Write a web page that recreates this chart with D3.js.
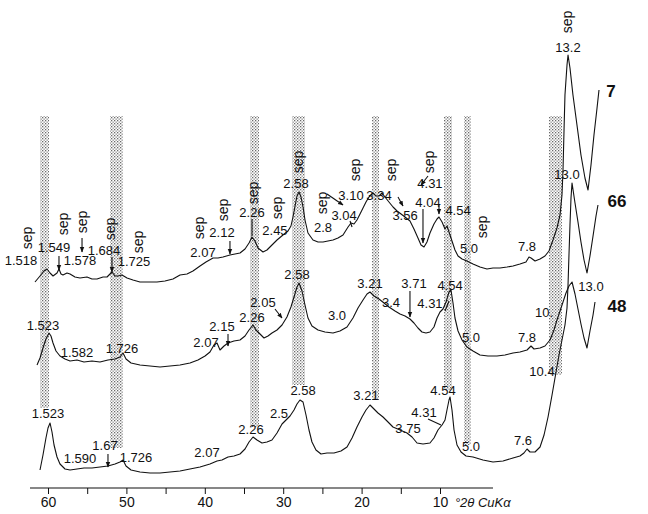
<!DOCTYPE html>
<html><head><meta charset="utf-8">
<script src="https://cdn.jsdelivr.net/npm/d3@7"></script>
<style>
html,body{margin:0;padding:0;background:#fff;}
svg{display:block;font-family:"Liberation Sans",Arial,Helvetica,sans-serif;}
</style></head><body>
<svg id="chart" width="648" height="514"></svg>
<script>
// ---- DATA (x in °2θ as read on the printed axis, y in arbitrary intensity units) ----
const sample7 = [[61.66,206],[61.02,212],[60.51,217],[60.13,219],[59.74,215],[59.36,212],[58.85,215],[58.60,219],[58.34,214],[58.09,213],[57.58,215],[57.19,214],[56.56,211],[55.92,210],[55.03,211],[54.39,209],[53.75,209],[52.98,211],[52.47,211],[51.84,216],[51.45,212],[51.07,212],[50.56,213],[49.92,210],[49.16,208],[48.27,206],[47.24,206],[46.10,206],[45.08,207],[44.06,209],[43.16,213],[42.27,214],[41.51,217],[40.61,222],[39.85,226],[38.95,230],[38.32,230],[37.68,231],[36.79,233],[36.15,234],[35.51,235],[34.87,239],[34.36,245],[33.98,251],[33.60,247],[33.21,240],[32.58,236],[32.07,238],[31.56,242],[30.79,248],[30.03,253],[29.39,257],[29.01,262],[28.75,271],[28.49,282],[28.24,292],[27.98,296],[27.73,291],[27.47,281],[27.22,268],[26.84,255],[26.20,248],[25.56,246],[24.92,246],[24.29,247],[23.65,248],[23.01,250],[22.37,253],[21.73,261],[21.35,265],[20.97,264],[20.59,268],[20.20,274],[19.82,280],[19.44,286],[19.06,291],[18.55,295],[18.16,292],[17.78,292],[17.40,295],[17.02,291],[16.51,286],[15.99,281],[15.48,277],[14.97,274],[14.46,271],[13.83,267],[13.32,259],[12.81,250],[12.42,243],[12.04,241],[11.66,246],[11.28,255],[10.77,264],[10.38,269],[10.13,271],[9.74,266],[9.36,259],[9.11,262],[8.85,256],[8.47,247],[8.09,238],[7.70,232],[7.19,229],[6.56,227],[5.79,224],[4.90,221],[4.01,219],[3.24,220],[2.35,220],[1.45,221],[0.69,222],[-0.20,224],[-0.97,226],[-1.35,231],[-1.61,230],[-2.12,227],[-2.76,229],[-3.39,232],[-3.90,237],[-4.41,248],[-4.92,260],[-5.31,273],[-5.56,293],[-5.69,318],[-5.82,358],[-5.94,393],[-6.20,423],[-6.33,433],[-6.58,420],[-6.96,393],[-7.47,363],[-7.98,333],[-8.49,310],[-8.88,298],[-9.26,323],[-9.64,353],[-10.03,380],[-10.28,398]];
const sample48 = [[61.40,123],[61.02,130],[60.64,140],[60.26,149],[59.87,155],[59.62,152],[59.36,145],[58.98,137],[58.47,132],[57.83,129],[57.19,127],[56.30,128],[55.41,126],[54.39,127],[53.37,126],[52.35,128],[51.45,129],[50.82,131],[50.43,135],[50.05,129],[49.41,125],[48.27,123],[46.99,122],[45.71,121],[44.44,122],[43.16,123],[41.89,125],[40.87,128],[39.97,132],[39.34,136],[38.83,143],[38.44,145],[38.06,138],[37.55,142],[37.04,145],[36.28,147],[35.51,148],[34.87,152],[34.36,158],[33.85,163],[33.47,158],[32.96,154],[32.45,150],[31.94,152],[31.43,155],[30.79,158],[30.15,163],[29.52,171],[29.01,181],[28.62,191],[28.24,201],[27.98,205],[27.60,197],[27.22,183],[26.84,170],[26.33,162],[25.56,158],[24.67,156],[23.65,155],[22.76,157],[21.86,161],[21.10,170],[20.46,180],[19.82,188],[19.31,194],[18.93,196],[18.42,192],[17.78,189],[17.14,185],[16.51,181],[15.74,177],[15.10,174],[14.46,172],[13.83,169],[13.32,165],[12.81,160],[12.30,156],[11.79,155],[11.28,156],[10.77,161],[10.38,170],[10.00,176],[9.62,179],[9.23,186],[8.85,196],[8.60,198],[8.34,185],[8.09,170],[7.70,157],[7.19,148],[6.56,141],[5.79,137],[4.90,133],[3.88,132],[2.73,132],[1.71,133],[0.69,135],[-0.20,136],[-1.10,138],[-1.61,142],[-1.99,139],[-2.76,140],[-3.39,142],[-4.03,148],[-4.54,158],[-4.92,168],[-5.31,177],[-5.69,186],[-6.07,195],[-6.45,202],[-6.84,206],[-7.22,194],[-7.60,179],[-7.98,164],[-8.37,150],[-8.75,140],[-9.13,157],[-9.52,173],[-9.77,186]];
const sample66 = [[61.02,18],[60.64,33],[60.26,50],[60.00,60],[59.74,65],[59.49,56],[59.23,43],[58.85,31],[58.47,24],[57.83,19],[57.19,18],[56.30,19],[55.41,20],[54.39,20],[53.37,21],[52.35,22],[51.45,24],[50.82,26],[50.43,28],[50.05,22],[49.41,18],[48.27,16],[46.99,15],[45.71,15],[44.44,16],[43.16,17],[41.89,19],[40.61,21],[39.34,24],[38.44,27],[37.81,28],[37.04,31],[36.28,32],[35.51,34],[34.87,39],[34.36,46],[33.85,51],[33.34,48],[32.71,45],[32.07,46],[31.43,48],[30.79,55],[30.15,64],[29.64,68],[29.13,72],[28.62,78],[28.24,84],[27.86,88],[27.47,86],[27.09,73],[26.71,58],[26.33,46],[25.82,38],[25.18,34],[24.41,35],[23.52,35],[22.63,37],[21.86,41],[21.22,50],[20.59,61],[19.95,71],[19.44,78],[18.93,83],[18.42,79],[17.91,75],[17.27,71],[16.63,66],[16.00,61],[15.10,58],[14.21,55],[13.57,51],[12.93,45],[12.17,44],[11.28,45],[10.77,50],[10.26,58],[9.74,63],[9.36,68],[9.11,78],[8.85,88],[8.72,91],[8.47,78],[8.21,58],[7.83,43],[7.32,36],[6.68,32],[5.79,31],[4.52,28],[3.24,26],[1.96,27],[0.69,30],[-0.20,32],[-0.71,35],[-1.10,39],[-1.48,36],[-2.12,36],[-2.76,41],[-3.27,53],[-3.78,71],[-4.29,93],[-4.80,116],[-5.18,133],[-5.56,148],[-5.94,163],[-6.20,180],[-6.33,203],[-6.45,233],[-6.58,263],[-6.71,290],[-6.84,305],[-7.22,285],[-7.60,266],[-7.98,246],[-8.37,228],[-8.75,215],[-9.13,232],[-9.52,252],[-9.90,272],[-10.15,283]];

const sampleNames = ["7", "66", "48"];
const sampleNamePos = [[-11.81,391],[-12.58,281],[-12.58,176]];

// d-spacing labels [text, °2θ, intensity]
const labels7 = [["1.518",63.44,223],["1.549",59.23,236],["1.578",55.92,223],["1.684",52.86,233],["1.725",49.03,222],["2.07",40.23,231],["2.12",37.81,251],["2.26",33.98,271],["2.45",31.05,253],["2.58",28.37,300],["2.8",24.92,256],["3.04",22.24,268],["3.10",21.35,288],["3.34",17.78,288],["3.56",14.46,268],["4.31",11.28,300],["4.04",11.53,281],["4.54",7.70,273],["5.0",6.30,235],["7.8",-1.10,237],["13.2",-6.33,436]];
const labels48 = [["1.523",60.64,158],["1.582",56.30,131],["1.726",50.56,135],["2.07",39.85,141],["2.15",37.81,157],["2.26",33.98,166],["2.05",32.58,181],["2.58",28.24,209],["3.0",23.14,168],["3.21",18.93,200],["3.4",16.25,181],["3.71",13.32,200],["4.31",11.28,180],["4.54",8.72,198],["5.0",6.05,146],["7.8",-1.10,146],["10.",-3.27,171],["13.0",-9.26,197]];
const labels66 = [["1.523",60.00,70],["1.590",55.92,25],["1.67",52.73,38],["1.726",48.78,26],["2.07",39.72,31],["2.26",34.11,54],["2.5",30.54,70],["2.58",27.47,93],["3.21",19.44,88],["4.31",12.04,71],["3.75",14.08,55],["4.54",9.62,93],["5.0",6.05,37],["7.6",-0.59,43],["10.4",-3.01,112],["13.0",-6.20,309]];
// sepiolite marks [°2θ, intensity]
const sepMarks = [[62.68,250],[58.09,264],[55.66,266],[52.09,259],[48.52,246],[40.74,260],[37.68,278],[33.85,295],[30.79,280],[28.11,326],[25.05,285],[20.84,318],[16.25,318],[11.40,326],[4.64,261],[-6.20,466]];
// pointer arrows [x1,y1,x2,y2,head]
const pointers = [[58.60,232,58.60,218,1],[55.66,250,55.66,236,1],[51.84,231,51.84,216,1],[36.79,247,36.79,234,1],[33.98,269,33.98,252,0],[24.41,294,22.37,283,1],[21.48,267,21.22,261,0],[15.36,291,14.72,282,1],[11.53,312,12.42,303,1],[12.17,279,12.17,245,1],[10.13,283,10.13,274,1],
  [37.04,154,37.04,142,1],[31.05,179,30.15,170,1],[13.83,197,13.83,171,1],[8.85,187,9.36,177,0],
  [52.35,34,52.35,21,1],[11.53,69,9.87,63,0]];
// reference reflection bands [from °2θ, to °2θ, lower intensity]
const bandFrom = [61.02,52.09,34.23,28.88,18.67,9.49,6.94,-3.90];
const bandTo   = [59.87,50.43,33.09,27.22,17.78,8.47,6.05,-5.56];
const bandLow  = [80,40,61,103,88,98,43,113];
const bandHigh = 372;
const xTicks = [60,55,50,45,40,35,30,25,20,15,10];
const axisExtent = [62.3, 3.24];

// ---- CHART ----
const svg = d3.select("#chart");
const x = d3.scaleLinear().domain([60, 10]).range([48, 440]);
const y = d3.scaleLinear().domain([0, 488]).range([488, 0]);

const defs = svg.append("defs");
const pat = defs.append("pattern").attr("id","stipple").attr("patternUnits","userSpaceOnUse")
  .attr("width",3).attr("height",3);
pat.append("rect").attr("x",0).attr("y",0).attr("width",1.3).attr("height",1.3).attr("fill","#6a6a6a");
pat.append("rect").attr("x",1.5).attr("y",1.5).attr("width",1.3).attr("height",1.3).attr("fill","#8a8a8a");
defs.append("marker").attr("id","arr").attr("viewBox","0 0 10 10").attr("refX",9).attr("refY",5)
  .attr("markerWidth",5).attr("markerHeight",5).attr("orient","auto")
  .append("path").attr("d","M0,1 L10,5 L0,9 Z").attr("fill","#111");

svg.append("rect").attr("width",648).attr("height",514).attr("fill","#fff");

// bands
svg.append("g").selectAll("rect").data(bandFrom).join("rect")
  .attr("x",(d,i)=>x(d)).attr("width",(d,i)=>x(bandTo[i])-x(d))
  .attr("y",y(bandHigh)).attr("height",(d,i)=>y(bandLow[i])-y(bandHigh))
  .attr("fill","url(#stipple)");

// curves
const line = d3.line().x(d=>x(d[0])).y(d=>y(d[1]));
svg.append("g").selectAll("path").data([sample7, sample48, sample66]).join("path")
  .attr("d", line).attr("fill","none").attr("stroke","#111").attr("stroke-width",1.1)
  .attr("stroke-linejoin","round");

// pointers
svg.append("g").selectAll("line").data(pointers).join("line")
  .attr("x1",d=>x(d[0])).attr("y1",d=>y(d[1])).attr("x2",d=>x(d[2])).attr("y2",d=>y(d[3]))
  .attr("stroke","#111").attr("stroke-width",1.1)
  .attr("marker-end",d=>d[4]?"url(#arr)":null);

// d-spacing labels
const lg = svg.append("g").attr("font-size",13).attr("fill","#111").attr("text-anchor","middle");
lg.selectAll("text").data([...labels7, ...labels48, ...labels66]).join("text")
  .attr("x",d=>x(d[1])).attr("y",d=>y(d[2])).text(d=>d[0]);

// sep labels
svg.append("g").attr("font-size",14).attr("fill","#111").selectAll("text").data(sepMarks).join("text")
  .attr("text-anchor","middle").attr("dy","0.33em")
  .attr("transform",d=>`translate(${x(d[0])},${y(d[1])}) rotate(-90)`).text("sep");

// sample names
svg.append("g").attr("font-size",17).attr("font-weight","bold").attr("fill","#111")
  .selectAll("text").data(sampleNames).join("text")
  .attr("text-anchor","middle").attr("x",(d,i)=>x(sampleNamePos[i][0])).attr("y",(d,i)=>y(sampleNamePos[i][1]))
  .text(d=>d);

// axis
const ax = svg.append("g").attr("transform",`translate(0,${y(0)})`)
  .call(d3.axisBottom(x).tickValues(xTicks).tickSize(6).tickSizeOuter(0)
    .tickFormat(d=> d % 10 === 0 ? d : ""));
ax.select(".domain").remove();
ax.selectAll(".tick line").attr("stroke","#111");
ax.selectAll(".tick text").attr("font-size",14).attr("fill","#111").attr("font-family","Liberation Sans, Arial, sans-serif");
ax.append("line").attr("x1",x(axisExtent[0])).attr("x2",x(axisExtent[1])).attr("y1",0).attr("y2",0)
  .attr("stroke","#111").attr("stroke-width",1.1);
svg.append("text").attr("x",x(8.1)).attr("y",y(-19)).attr("font-size",13).attr("font-style","italic")
  .attr("fill","#111").text("°2θ CuKα");
</script>
</body></html>
